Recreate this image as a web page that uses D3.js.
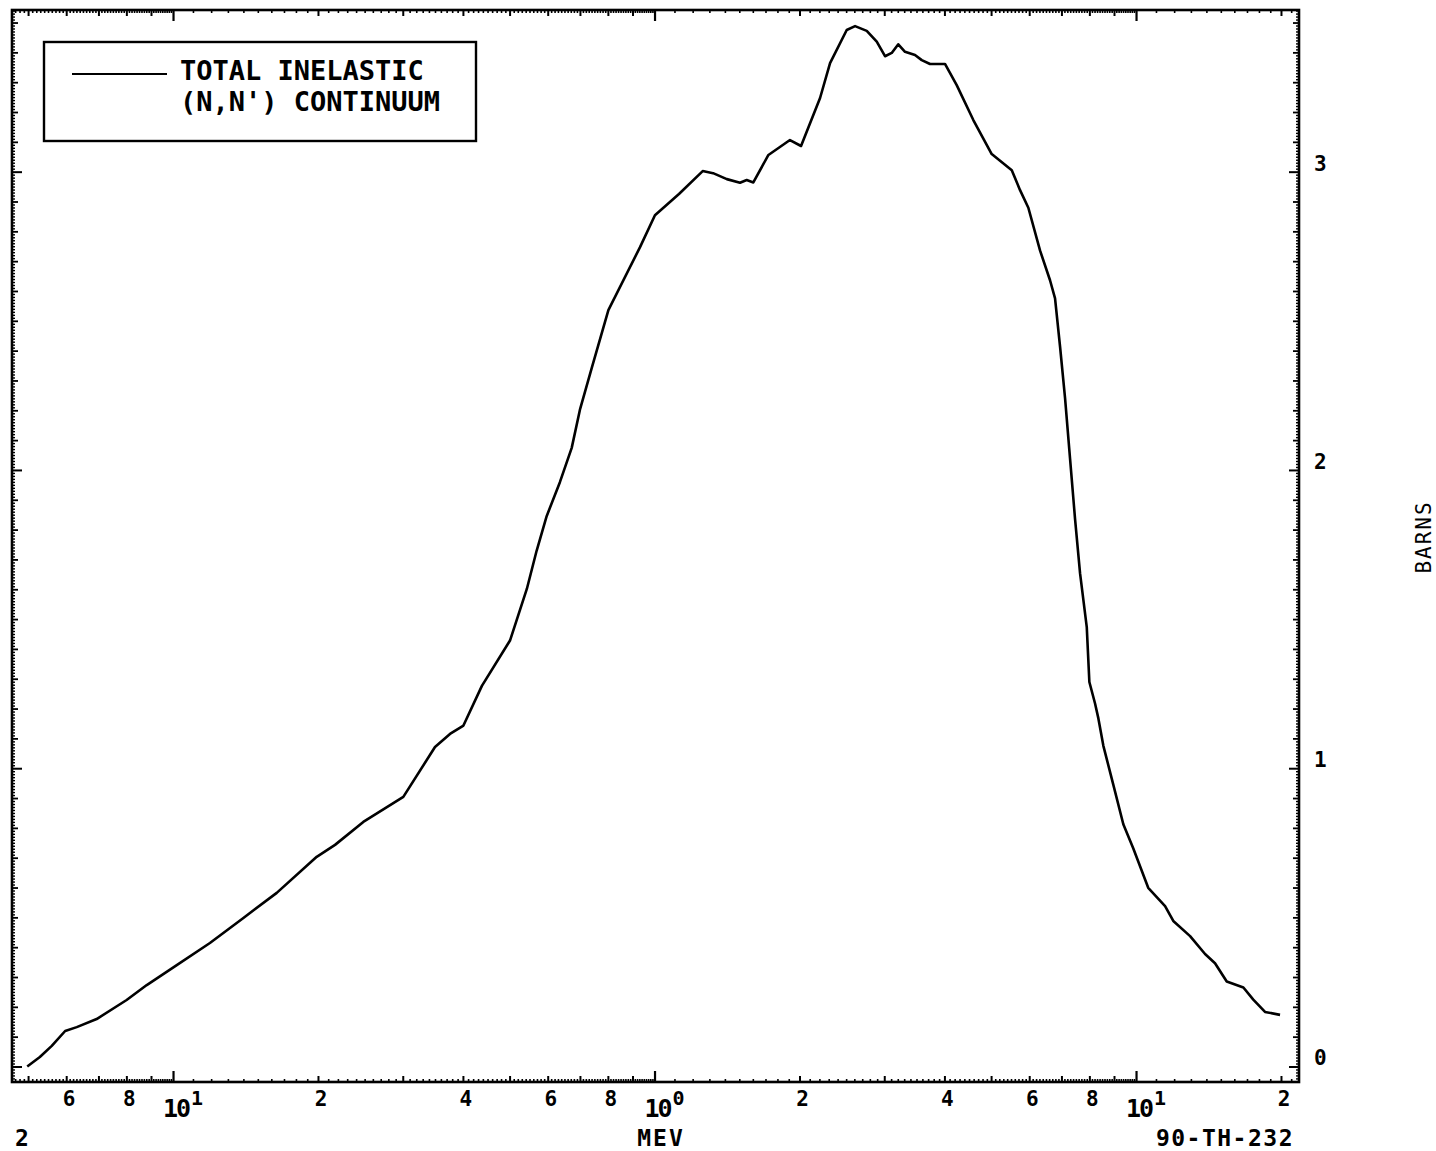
<!DOCTYPE html>
<html>
<head>
<meta charset="utf-8">
<script src="https://cdn.jsdelivr.net/npm/d3@7"></script>
<style>
  html, body { margin: 0; padding: 0; background: #fff; }
  svg { display: block; }
  text { font-family: "DejaVu Sans Mono", monospace; fill: #000; }
</style>
</head>
<body>
<svg id="chart" width="1436" height="1151"></svg>
<script>
// ---- data ----
const energyMeV = [0.0498,0.0529,0.0560,0.0597,0.0631,0.0694,0.0801,0.0882,0.1018,0.1193,
  0.140,0.1642,0.1988,0.2170,0.2484,0.3008,0.350,0.376,0.401,0.438,
  0.501,0.543,0.569,0.597,0.636,0.673,0.700,0.741,0.802,0.933,
  1.002,1.124,1.259,1.323,1.413,1.505,1.554,1.604,1.724,1.911,
  2.015,2.207,2.315,2.507,2.609,2.759,2.894,3.011,3.109,3.208,
  3.313,3.475,3.589,3.734,4.011,4.242,4.593,5.015,5.520,5.743,
  5.975,6.318,6.628,6.789,6.954,7.122,7.294,7.471,7.652,7.901,
  8.000,8.220,8.352,8.554,8.972,9.410,9.871,10.60,11.49,11.95,
  12.95,13.91,14.59,15.43,16.71,17.52,18.53,19.91];
const crossSectionBarns = [0.000,0.032,0.069,0.119,0.132,0.159,0.223,0.273,0.340,0.414,
  0.498,0.582,0.703,0.743,0.820,0.904,1.071,1.115,1.143,1.276,
  1.428,1.601,1.729,1.845,1.959,2.074,2.202,2.343,2.536,2.747,
  2.854,2.925,3.002,2.995,2.975,2.963,2.972,2.964,3.056,3.106,
  3.086,3.247,3.364,3.475,3.488,3.472,3.436,3.387,3.398,3.427,
  3.402,3.391,3.374,3.361,3.361,3.290,3.173,3.059,3.005,2.938,
  2.879,2.736,2.636,2.575,2.413,2.241,2.038,1.835,1.653,1.473,
  1.289,1.217,1.167,1.075,0.944,0.812,0.731,0.599,0.538,0.488,
  0.437,0.377,0.346,0.285,0.265,0.224,0.183,0.173];

const xLabelValues = [0.06, 0.08, 0.2, 0.4, 0.6, 0.8, 2, 4, 6, 8, 20];
const xLabelTexts  = ["6", "8", "2", "4", "6", "8", "2", "4", "6", "8", "2"];
const xDecadeValues = [0.1, 1, 10];
const xDecadeExponents = ["1", "0", "1"];
const yLabelValues = [0, 1, 2, 3];
const yLabelTexts = ["0", "1", "2", "3"];
const legendLines = ["TOTAL INELASTIC", "(N,N') CONTINUUM"];
const xTitle = "MEV";
const yTitle = "BARNS";
const plotId = "90-TH-232";
const cornerText = "2";

// ---- layout ----
const L = 12, R = 1299, T = 10, B = 1082;
const svg = d3.select("#chart");

const x = d3.scaleLog().domain([0.0463, 21.8]).range([L, R]);
const y = d3.scaleLinear().domain([-0.052, 3.542]).range([B, T]);

// tick value sets
const xMinor = [], xMid = [];
[0.01, 0.1, 1, 10].forEach(d => {
  for (let k = 10; k < 100; k++) {
    const v = d * k / 10;
    if (v < x.domain()[0] || v > x.domain()[1]) continue;
    if (k % 10 === 0) { if (k !== 10) xMid.push(v); }
    else xMinor.push(v);
  }
});
const yMinor = d3.range(-5, 355).map(i => i / 100).filter(v => Math.round(v * 100) % 10 !== 0);
const yMid = d3.range(0, 36).map(i => i / 10).filter(v => Math.round(v * 10) % 10 !== 0);
const yMajor = [0, 1, 2, 3];

function addAxis(gen, tr, vals, size, width) {
  const g = svg.append("g").attr("transform", tr)
    .call(gen.tickValues(vals).tickSize(size).tickFormat(""));
  g.select(".domain").remove();
  g.selectAll(".tick line").attr("stroke", "#000").attr("stroke-width", width);
  return g;
}
// bottom (ticks pointing up), top (ticks pointing down)
addAxis(d3.axisTop(x), `translate(0,${B})`, xMinor, 3, 1.6);
addAxis(d3.axisTop(x), `translate(0,${B})`, xMid, 6, 2);
addAxis(d3.axisTop(x), `translate(0,${B})`, xDecadeValues, 11, 2.2);
addAxis(d3.axisBottom(x), `translate(0,${T})`, xMinor, 3, 1.6);
addAxis(d3.axisBottom(x), `translate(0,${T})`, xMid, 6, 2);
addAxis(d3.axisBottom(x), `translate(0,${T})`, xDecadeValues, 11, 2.2);
// left (ticks pointing right), right (ticks pointing left)
addAxis(d3.axisRight(y), `translate(${L},0)`, yMinor, 3, 1.4);
addAxis(d3.axisRight(y), `translate(${L},0)`, yMid, 6, 1.8);
addAxis(d3.axisRight(y), `translate(${L},0)`, yMajor, 10, 2);
addAxis(d3.axisLeft(y), `translate(${R},0)`, yMinor, 3, 1.4);
addAxis(d3.axisLeft(y), `translate(${R},0)`, yMid, 6, 1.8);
addAxis(d3.axisLeft(y), `translate(${R},0)`, yMajor, 10, 2);

// frame
svg.append("rect").attr("x", L).attr("y", T).attr("width", R - L).attr("height", B - T)
  .attr("fill", "none").attr("stroke", "#000").attr("stroke-width", 2.6);

// curve
const line = d3.line().x(d => x(d[0])).y(d => y(d[1]));
svg.append("path")
  .datum(energyMeV.map((e, i) => [e, crossSectionBarns[i]]))
  .attr("d", line).attr("fill", "none").attr("stroke", "#000")
  .attr("stroke-width", 2.6).attr("stroke-linejoin", "round");

// x tick labels
svg.append("g").selectAll("text").data(xLabelValues).join("text")
  .attr("x", (d) => x(d) + 3).attr("y", 1106)
  .attr("text-anchor", "middle").attr("font-size", 21).attr("font-weight", "bold")
  .text((d, i) => xLabelTexts[i]);
const dec = svg.append("g").selectAll("g").data(xDecadeValues).join("g")
  .attr("transform", d => `translate(${x(d)},0)`);
dec.append("text").attr("x", 3).attr("y", 1117).attr("text-anchor", "middle")
  .attr("font-size", 25).attr("font-weight", "bold").attr("letter-spacing", -2).text("10");
dec.append("text").attr("x", 24).attr("y", 1105).attr("text-anchor", "middle")
  .attr("font-size", 20).attr("font-weight", "bold").text((d, i) => xDecadeExponents[i]);

// y tick labels (right side)
svg.append("g").selectAll("text").data(yLabelValues).join("text")
  .attr("x", 1314).attr("y", d => y(d) - 1)
  .attr("font-size", 21).attr("font-weight", "bold")
  .text((d, i) => yLabelTexts[i]);

// titles
svg.append("text").attr("x", 661).attr("y", 1146).attr("text-anchor", "middle")
  .attr("font-size", 23).attr("font-weight", "bold").attr("letter-spacing", 2).text(xTitle);
svg.append("text").attr("x", 1294).attr("y", 1146).attr("text-anchor", "end")
  .attr("font-size", 23).attr("font-weight", "bold").attr("letter-spacing", 1.5).text(plotId);
svg.append("text").attr("x", 15).attr("y", 1146)
  .attr("font-size", 23).attr("font-weight", "bold").text(cornerText);
svg.append("text").attr("transform", "translate(1431,537) rotate(-90)")
  .attr("text-anchor", "middle").attr("font-size", 21).attr("letter-spacing", 2).text(yTitle);

// legend
const lg = svg.append("g");
lg.append("rect").attr("x", 44).attr("y", 42).attr("width", 432).attr("height", 99)
  .attr("fill", "#fff").attr("stroke", "#000").attr("stroke-width", 2.4);
lg.append("line").attr("x1", 72).attr("x2", 167).attr("y1", 74).attr("y2", 74)
  .attr("stroke", "#000").attr("stroke-width", 1.8);
lg.selectAll("text.lg").data(legendLines).join("text").attr("class", "lg")
  .attr("x", (d, i) => i === 0 ? 180 : 180).attr("y", (d, i) => 80 + i * 31)
  .attr("font-size", 27).attr("font-weight", "bold").attr("letter-spacing", 0)
  .text(d => d);
</script>
</body>
</html>
